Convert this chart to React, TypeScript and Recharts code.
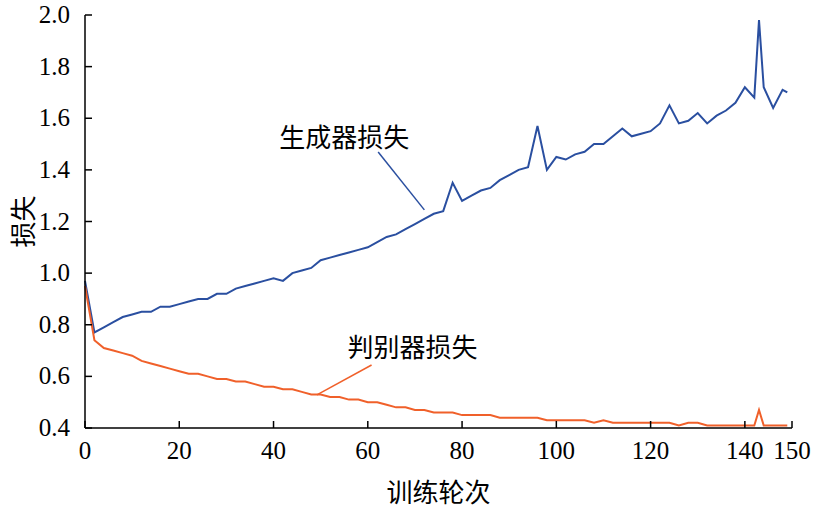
import { LineChart, Line, XAxis, YAxis, ReferenceLine, ReferenceDot, Label } from "recharts";

const epochs = [0, 2, 4, 6, 8, 10, 12, 14, 16, 18, 20, 22, 24, 26, 28, 30, 32, 34, 36, 38, 40, 42, 44, 46, 48, 50, 52, 54, 56, 58, 60, 62, 64, 66, 68, 70, 72, 74, 76, 78, 80, 82, 84, 86, 88, 90, 92, 94, 96, 98, 100, 102, 104, 106, 108, 110, 112, 114, 116, 118, 120, 122, 124, 126, 128, 130, 132, 134, 136, 138, 140, 142, 143, 144, 146, 148, 149];
const genLoss = [0.97, 0.77, 0.79, 0.81, 0.83, 0.84, 0.85, 0.85, 0.87, 0.87, 0.88, 0.89, 0.9, 0.9, 0.92, 0.92, 0.94, 0.95, 0.96, 0.97, 0.98, 0.97, 1.0, 1.01, 1.02, 1.05, 1.06, 1.07, 1.08, 1.09, 1.1, 1.12, 1.14, 1.15, 1.17, 1.19, 1.21, 1.23, 1.24, 1.35, 1.28, 1.3, 1.32, 1.33, 1.36, 1.38, 1.4, 1.41, 1.57, 1.4, 1.45, 1.44, 1.46, 1.47, 1.5, 1.5, 1.53, 1.56, 1.53, 1.54, 1.55, 1.58, 1.65, 1.58, 1.59, 1.62, 1.58, 1.61, 1.63, 1.66, 1.72, 1.68, 1.98, 1.72, 1.64, 1.71, 1.7];
const discLoss = [0.95, 0.74, 0.71, 0.7, 0.69, 0.68, 0.66, 0.65, 0.64, 0.63, 0.62, 0.61, 0.61, 0.6, 0.59, 0.59, 0.58, 0.58, 0.57, 0.56, 0.56, 0.55, 0.55, 0.54, 0.53, 0.53, 0.52, 0.52, 0.51, 0.51, 0.5, 0.5, 0.49, 0.48, 0.48, 0.47, 0.47, 0.46, 0.46, 0.46, 0.45, 0.45, 0.45, 0.45, 0.44, 0.44, 0.44, 0.44, 0.44, 0.43, 0.43, 0.43, 0.43, 0.43, 0.42, 0.43, 0.42, 0.42, 0.42, 0.42, 0.42, 0.42, 0.42, 0.41, 0.42, 0.42, 0.41, 0.41, 0.41, 0.41, 0.41, 0.41, 0.47, 0.41, 0.41, 0.41, 0.41];
const xTicks = [0, 20, 40, 60, 80, 100, 120, 140, 150];
const yTicks = [0.4, 0.6, 0.8, 1.0, 1.2, 1.4, 1.6, 1.8, 2.0];

const data = epochs.map((e, i) => ({ epoch: e, gen: genLoss[i], disc: discLoss[i] }));

const BLUE = "#2a4fa0";
const ORANGE = "#f0602a";
const serif = "'Liberation Serif', 'DejaVu Serif', serif";
const cjk = "'Noto Sans CJK SC'";

// custom ticks so the serif face actually sticks
const XTick = ({ x, y, payload }: any) => (
	<text x={x} y={y + 36} textAnchor="middle" style={{ fontFamily: serif, fontSize: 25, fill: "#000" }}>
		{payload.value}
	</text>
);
const YTick = ({ x, y, payload }: any) => (
	<text x={x - 20} y={y + 8} textAnchor="end" style={{ fontFamily: serif, fontSize: 25, fill: "#000" }}>
		{Number(payload.value).toFixed(1)}
	</text>
);

export default function App() {
	return (
		<div style={{ position: "absolute", top: 0, left: 0 }}>
			<LineChart width={828} height={508} data={data} margin={{ top: 15, right: 36, left: 0, bottom: 0 }}>
				<XAxis
					dataKey="epoch"
					type="number"
					domain={[0, 150]}
					ticks={xTicks}
					height={80}
					stroke="#000"
					strokeWidth={1.5}
					tickSize={-7}
					tick={<XTick />}
				>
					<Label value="训练轮次" position="insideBottom" offset={6} style={{ fontFamily: cjk, fontSize: 26, fill: "#000" }} />
				</XAxis>
				<YAxis
					type="number"
					domain={[0.4, 2.0]}
					ticks={yTicks}
					width={85}
					stroke="#000"
					strokeWidth={1.5}
					tickSize={-7}
					tick={<YTick />}
				>
					<Label value="损失" angle={-90} position="insideLeft" offset={24} style={{ fontFamily: cjk, fontSize: 26, fill: "#000", textAnchor: "middle" }} />
				</YAxis>
				<Line dataKey="gen" stroke={BLUE} strokeWidth={2} dot={false} isAnimationActive={false} />
				<Line dataKey="disc" stroke={ORANGE} strokeWidth={2} dot={false} isAnimationActive={false} />
				<ReferenceLine segment={[{ x: 62.2, y: 1.469 }, { x: 72, y: 1.245 }]} stroke={BLUE} strokeWidth={1.5} />
				<ReferenceLine segment={[{ x: 60.8, y: 0.644 }, { x: 49.2, y: 0.528 }]} stroke={ORANGE} strokeWidth={1.5} />
				<ReferenceDot x={55} y={1.523} r={0} fill="none" stroke="none">
					<Label value="生成器损失" position="center" style={{ fontFamily: cjk, fontSize: 26, fill: "#000" }} />
				</ReferenceDot>
				<ReferenceDot x={69.5} y={0.71} r={0} fill="none" stroke="none">
					<Label value="判别器损失" position="center" style={{ fontFamily: cjk, fontSize: 26, fill: "#000" }} />
				</ReferenceDot>
			</LineChart>
		</div>
	);
}
